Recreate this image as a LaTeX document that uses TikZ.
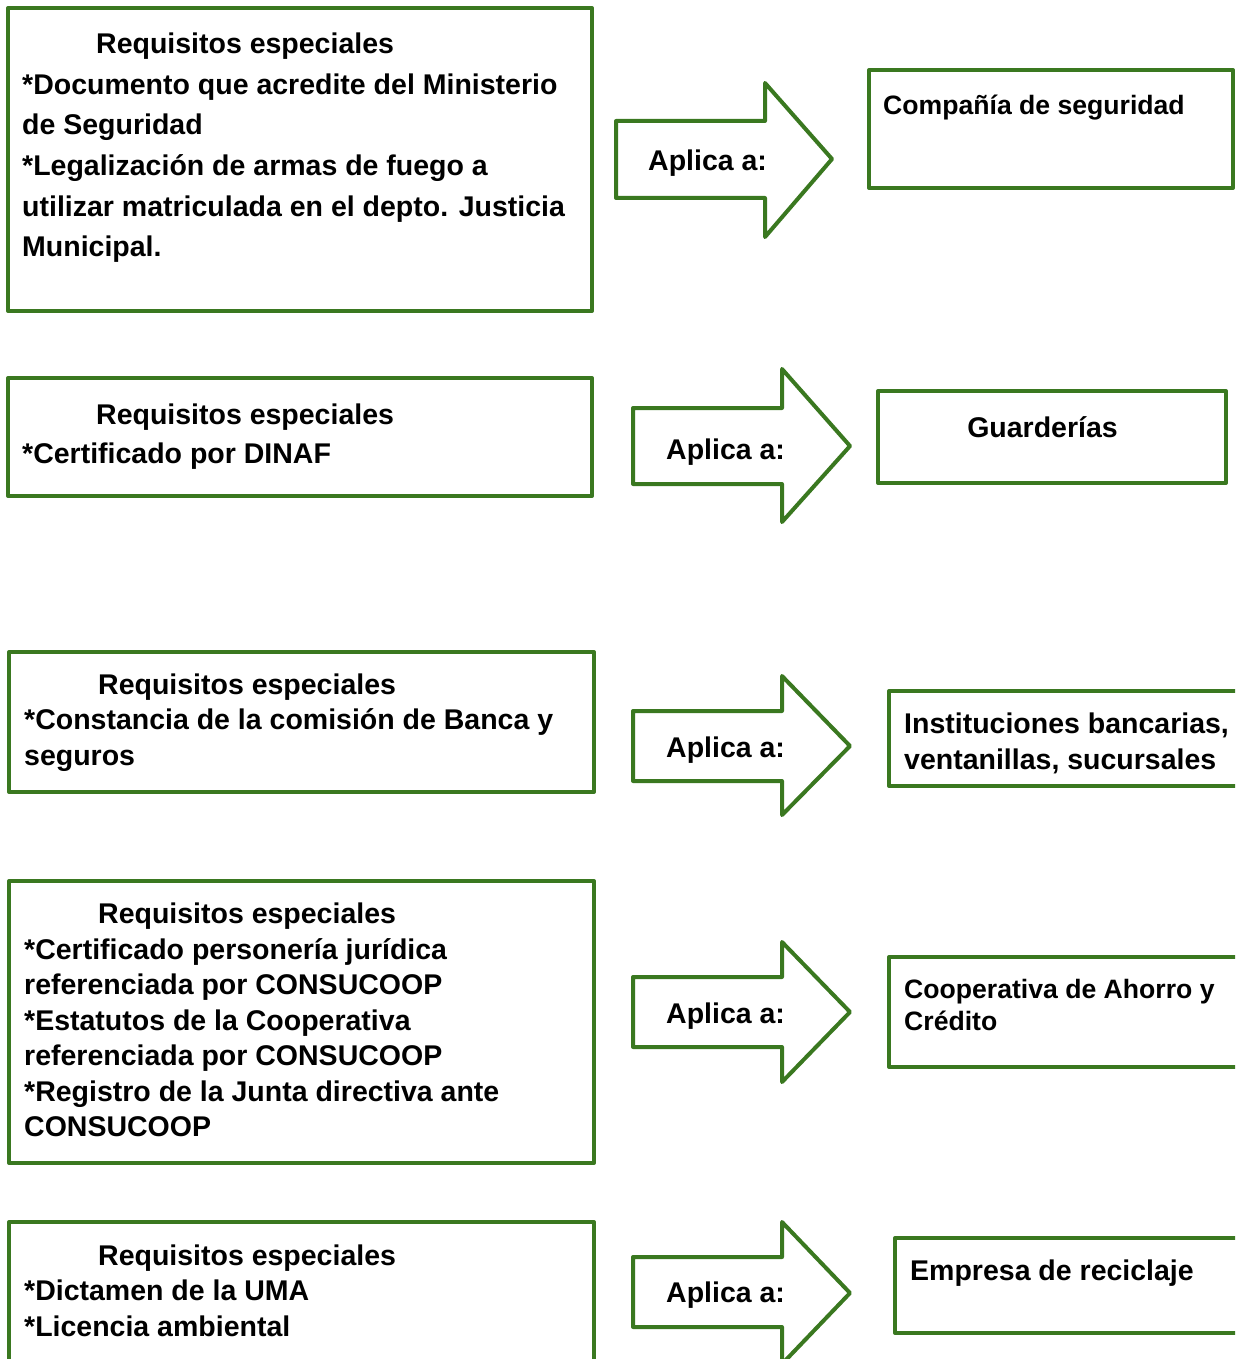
\documentclass[tikz,border=0pt]{standalone}
\usepackage{fontspec}
\setmainfont{Liberation Sans}
\definecolor{frame}{RGB}{58,120,32}
\tikzset{
  frm/.style={draw=frame, line width=4pt, line join=round},
  lbl/.style={anchor=base west, inner sep=0pt, font=\bfseries\fontsize{28.5}{34}\selectfont},
  lblsm/.style={lbl, font=\bfseries\fontsize{26.6}{32}\selectfont},
}
\begin{document}
\begin{tikzpicture}[x=1pt,y=-1pt]
\useasboundingbox (0,0) rectangle (1235,1359);
\clip (0,0) rectangle (1235,1359);

% requirement boxes (left column)
\draw[frm] (8,8) rectangle (592,311);
\draw[frm] (8,378) rectangle (592,496);
\draw[frm] (9,652) rectangle (594,792);
\draw[frm] (9,881) rectangle (594,1163);
\draw[frm] (9,1222) rectangle (594,1390);

% target boxes (right column)
\draw[frm] (869,70) rectangle (1233,188);
\draw[frm] (878,391) rectangle (1226,483);
\draw[frm] (889,691) rectangle (1250,786);
\draw[frm] (889,957) rectangle (1250,1067);
\draw[frm] (895,1238) rectangle (1250,1333);

% block arrows
\draw[frm] (616,121) -- (765,121) -- (765,83) -- (832,159) -- (765,237) -- (765,198) -- (616,198) -- cycle;
\draw[frm] (633,408) -- (782,408) -- (782,369) -- (850,446) -- (782,522) -- (782,484) -- (633,484) -- cycle;
\draw[frm] (633,711) -- (782,711) -- (782,676) -- (850,746) -- (782,815) -- (782,781) -- (633,781) -- cycle;
\draw[frm] (633,977) -- (782,977) -- (782,942) -- (850,1012) -- (782,1082) -- (782,1047) -- (633,1047) -- cycle;
\draw[frm] (633,1257) -- (782,1257) -- (782,1222) -- (850,1293) -- (782,1364) -- (782,1327) -- (633,1327) -- cycle;

% arrow labels
\node[lbl] (ap1) at (648,171) {Aplica a:};
\node[lbl] (ap2) at (666,459) {Aplica a:};
\node[lbl] (ap3) at (666,757) {Aplica a:};
\node[lbl] (ap4) at (666,1023) {Aplica a:};
\node[lbl] (ap5) at (666,1302) {Aplica a:};

% box 1
\node[lbl] (r1a) at (96,53.7) {Requisitos especiales};
\node[lbl] (r1b) at (22,94.3) {*Documento que acredite del Ministerio};
\node[lbl] (r1c) at (22,135) {de Seguridad};
\node[lbl] (r1d) at (22,175.5) {*Legalización de armas de fuego a};
\node[lbl] (r1e) at (22,216) {utilizar matriculada en el depto. Justicia};
\node[lbl] (r1f) at (22,256.7) {Municipal.};

% box 2
\node[lbl] (r2a) at (96,424) {Requisitos especiales};
\node[lbl] (r2b) at (22,463) {*Certificado por DINAF};

% box 3
\node[lbl] (r3a) at (98,694) {Requisitos especiales};
\node[lbl] (r3b) at (24,729.5) {*Constancia de la comisión de Banca y};
\node[lbl] (r3c) at (24,765) {seguros};

% box 4
\node[lbl] (r4a) at (98,923.5) {Requisitos especiales};
\node[lbl] (r4b) at (24,959) {*Certificado personería jurídica};
\node[lbl] (r4c) at (24,994.5) {referenciada por CONSUCOOP};
\node[lbl] (r4d) at (24,1030) {*Estatutos de la Cooperativa};
\node[lbl] (r4e) at (24,1065.5) {referenciada por CONSUCOOP};
\node[lbl] (r4f) at (24,1101) {*Registro de la Junta directiva ante};
\node[lbl] (r4g) at (24,1136.5) {CONSUCOOP};

% box 5
\node[lbl] (r5a) at (98,1265) {Requisitos especiales};
\node[lbl] (r5b) at (24,1300.5) {*Dictamen de la UMA};
\node[lbl] (r5c) at (24,1336) {*Licencia ambiental};

% right column labels
\node[lblsm] (t1) at (883,115) {Compañía de seguridad};
\node[lbl, anchor=base] (t2) at (1042.5,437) {Guarderías};
\node[lbl] (t3a) at (904,733) {Instituciones bancarias,};
\node[lbl] (t3b) at (904,769) {ventanillas, sucursales};
\node[lblsm] (t4a) at (904,998) {Cooperativa de Ahorro y};
\node[lblsm] (t4b) at (904,1030) {Crédito};
\node[lbl] (t5) at (910,1280) {Empresa de reciclaje};
\end{tikzpicture}
\end{document}
